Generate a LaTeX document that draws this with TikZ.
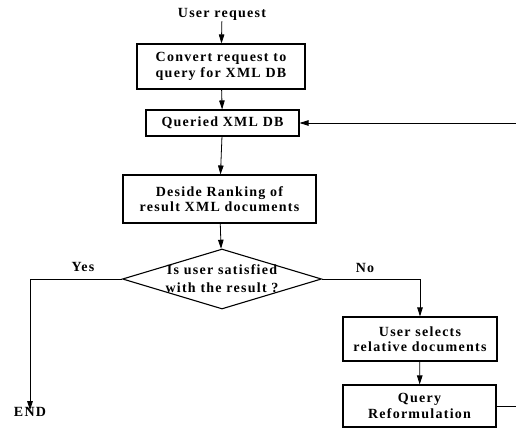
\documentclass[tikz,border=0pt]{standalone}
\usepackage{fontspec}
\setmainfont{Liberation Serif}[LetterSpace=9]
\usetikzlibrary{shapes.geometric,arrows.meta}
\begin{document}
\begin{tikzpicture}[x=1pt,y=-1pt,
  lbl/.style={font=\bfseries\fontsize{14}{15.5}\selectfont, align=center, inner sep=1pt},
  box/.style={lbl, draw, line width=1.1pt, inner sep=0pt},
  decision/.style={draw, diamond, line width=1.1pt, inner sep=0pt},
  arr/.style={-{Triangle[length=9pt,width=5.5pt]}, line width=0.8pt},
  ln/.style={line width=0.8pt}]
\useasboundingbox (0,0) rectangle (516,428);
\node[lbl] (ur) at (222,14) {User request};
\node[box, minimum width=168pt, minimum height=45pt] (b1) at (221,66.5) {Convert request to\\query for XML DB};
\node[box, minimum width=153pt, minimum height=26pt] (b2) at (222.5,123) {Queried XML DB};
\node[box, minimum width=193pt, minimum height=48pt] (b3) at (219.5,199) {Deside Ranking of\\result XML documents};
\node[decision, minimum width=199pt, minimum height=60pt] (d) at (222,279) {};
\node[lbl, font=\bfseries\fontsize{14}{18}\selectfont] (dt) at (222,279) {Is user satisfied\\with the result ?};
\node[box, minimum width=154pt, minimum height=44pt] (b4) at (420,339) {User selects\\relative documents};
\node[box, minimum width=153pt, minimum height=42pt] (b5) at (419.5,406) {Query\\Reformulation};
\node[lbl] (end) at (30,412) {END};
\node[lbl] (yes) at (83,267) {Yes};
\node[lbl] (no) at (365,268) {No};
\coordinate (fb) at (520,0);
\draw[arr] (ur) -- (b1);
\draw[arr] (b1) -- (b2);
\draw[arr] (b2) -- (b3);
\draw[arr] (b3) -- (d);
\draw[arr] (d.west) -| ([yshift=-4pt]end.north);
\draw[arr] (d.east) -| (b4.north);
\draw[arr] (b4) -- (b5);
\draw[arr] (b5.east) -- (b5.east -| fb) |- (b2.east);
\end{tikzpicture}
\end{document}
